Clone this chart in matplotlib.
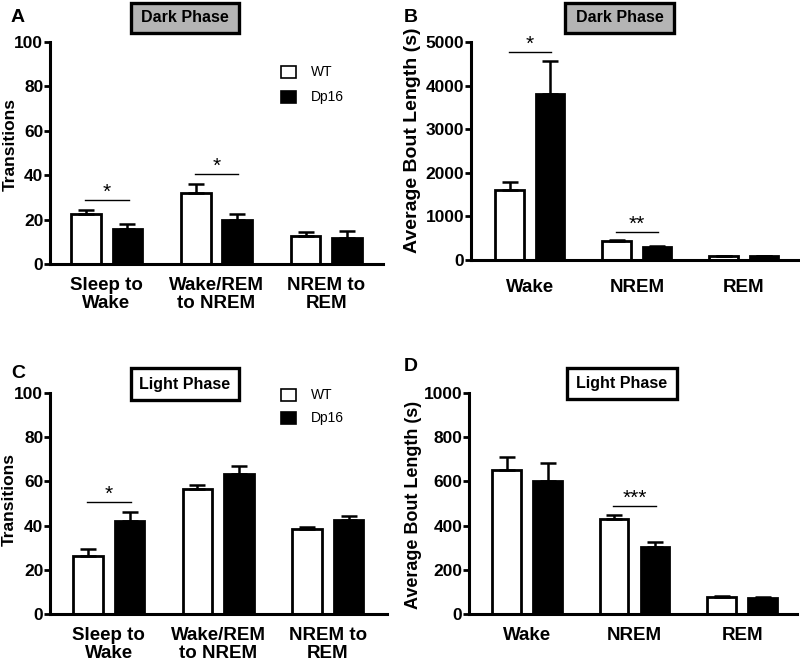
import matplotlib
matplotlib.use("Agg")
import matplotlib.pyplot as plt
from matplotlib.patches import Rectangle
import numpy as np

plt.rcParams['font.family'] = ['Liberation Sans', 'DejaVu Sans']

# ---------------- data ----------------
trans_cats = ["Sleep to\nWake", "Wake/REM\nto NREM", "NREM to\nREM"]
bout_cats = ["Wake", "NREM", "REM"]

# Panel A: Dark phase transitions
A_wt = [22.5, 32.0, 12.6]
A_wt_err = [1.8, 4.0, 1.9]
A_dp = [15.9, 20.0, 11.8]
A_dp_err = [2.1, 2.5, 3.1]
A_sig = [(0, 28.8, "*"), (1, 40.5, "*")]

# Panel B: Dark phase bout length
B_wt = [1606, 436, 85]
B_wt_err = [184, 25, 12]
B_dp = [3800, 305, 85]
B_dp_err = [765, 20, 15]
B_sig = [(0, 4770, "*"), (1, 640, "**")]

# Panel C: Light phase transitions
C_wt = [26.4, 56.4, 38.3]
C_wt_err = [3.0, 2.0, 0.9]
C_dp = [42.0, 63.4, 42.5]
C_dp_err = [4.3, 3.7, 2.0]
C_sig = [(0, 50.5, "*")]

# Panel D: Light phase bout length
D_wt = [652, 430, 78]
D_wt_err = [60, 18, 3]
D_dp = [603, 305, 74]
D_dp_err = [79, 19, 4]
D_sig = [(1, 489, "***")]

A_ticks = [0, 20, 40, 60, 80, 100]
B_ticks = [0, 1000, 2000, 3000, 4000, 5000]
D_ticks = [0, 200, 400, 600, 800, 1000]

W, H = 800, 662
fig = plt.figure(figsize=(8.0, 6.62), dpi=100)


def fx(px):
    return px / W


def fy(py):
    return 1 - py / H


def panel(rect, wt, wt_err, dp, dp_err, cats, ticks, ylabel, sig, xlim,
          off, bw, ylab_xy, ylab_size, xpad):
    l, r, t, b = rect
    ax = fig.add_axes([fx(l), fy(b), fx(r) - fx(l), fy(t) - fy(b)])
    x = np.arange(len(cats))
    ax.bar(x - off, wt, width=bw, color="white", edgecolor="black",
           linewidth=2.0, zorder=2)
    ax.bar(x + off, dp, width=bw, color="black", edgecolor="black",
           linewidth=2.0, zorder=2)
    ax.errorbar(x - off, wt, yerr=[np.zeros(len(wt)), wt_err], fmt="none",
                ecolor="black", elinewidth=1.8, capsize=6, capthick=1.8,
                zorder=3)
    ax.errorbar(x + off, dp, yerr=[np.zeros(len(dp)), dp_err], fmt="none",
                ecolor="black", elinewidth=1.8, capsize=6, capthick=1.8,
                zorder=3)
    for gi, yy, lab in sig:
        ax.plot([gi - 0.2, gi + 0.2], [yy, yy], color="black", lw=1.0,
                zorder=3)
        ax.annotate(lab, xy=(gi, yy), xytext=(0, 1.5),
                    textcoords="offset points", ha="center", va="baseline",
                    fontsize=15, color="black")
    ax.set_xlim(*xlim)
    ax.set_ylim(ticks[0], ticks[-1])
    ax.set_yticks(ticks)
    ax.set_xticks(x)
    ax.set_xticklabels(cats, fontsize=13.5, fontweight="bold",
                       linespacing=1.1)
    for lab in ax.get_yticklabels():
        lab.set_fontsize(12.5)
        lab.set_fontweight("bold")
    ax.tick_params(axis="y", direction="out", length=4, width=2.0, pad=0.8)
    ax.tick_params(axis="x", length=0, pad=xpad)
    for s in ["top", "right"]:
        ax.spines[s].set_visible(False)
    for s in ["left", "bottom"]:
        ax.spines[s].set_linewidth(2.2)
    ax.set_ylabel(ylabel, fontsize=ylab_size, fontweight="bold")
    ax.yaxis.set_label_coords(*ylab_xy)
    return ax


axA = panel((50, 383, 42, 264), A_wt, A_wt_err, A_dp, A_dp_err, trans_cats,
            A_ticks, "Transitions", A_sig, (-0.514, 2.514), 0.187, 0.265,
            (-0.098, 0.54), 12.5, 9)
axB = panel((471, 798, 42, 260), B_wt, B_wt_err, B_dp, B_dp_err, bout_cats,
            B_ticks, "Average Bout Length (s)", B_sig, (-0.551, 2.505), 0.19,
            0.265, (-0.153, 0.55), 14, 14)
axC = panel((50, 387, 393, 614), C_wt, C_wt_err, C_dp, C_dp_err, trans_cats,
            A_ticks, "Transitions", C_sig, (-0.536, 2.54), 0.19, 0.27,
            (-0.098, 0.516), 12.5, 9)
axD = panel((469, 797, 393, 614), D_wt, D_wt_err, D_dp, D_dp_err, bout_cats,
            D_ticks, "Average Bout Length (s)", D_sig, (-0.54, 2.51), 0.19,
            0.265, (-0.144, 0.493), 13, 9)


# title boxes
def title_box(x0, x1, y0, y1, text, fc):
    fig.add_artist(Rectangle((fx(x0), fy(y1)), fx(x1) - fx(x0),
                             fy(y0) - fy(y1), transform=fig.transFigure,
                             facecolor=fc, edgecolor="black", linewidth=2.4))
    fig.text(fx((x0 + x1) / 2), fy((y0 + y1) / 2), text, ha="center",
             va="center", fontsize=11.5, fontweight="bold")


title_box(131, 239, 3, 33, "Dark Phase", "#b4b4b4")
title_box(565, 674, 3, 33, "Dark Phase", "#b4b4b4")
title_box(131, 239, 368, 400, "Light Phase", "white")
title_box(567, 677, 368, 399, "Light Phase", "white")


# legends
def legend(x0, yc1, yc2):
    for yc, fc, lab in [(yc1, "white", "WT"), (yc2, "black", "Dp16")]:
        fig.add_artist(Rectangle((fx(x0), fy(yc + 6)), 15 / W, 12 / H,
                                 transform=fig.transFigure, facecolor=fc,
                                 edgecolor="black", linewidth=1.2))
        fig.text(fx(x0 + 30), fy(yc), lab, ha="left", va="center",
                 fontsize=10)


legend(281, 72, 96.5)
legend(281, 395, 418)

# panel letters
for lab, px, py in [("A", 11, 22), ("B", 404, 22), ("C", 11, 378),
                    ("D", 404, 371)]:
    fig.text(fx(px), fy(py), lab, ha="left", va="baseline", fontsize=14,
             fontweight="bold")

fig.savefig("out.png", dpi=100)
